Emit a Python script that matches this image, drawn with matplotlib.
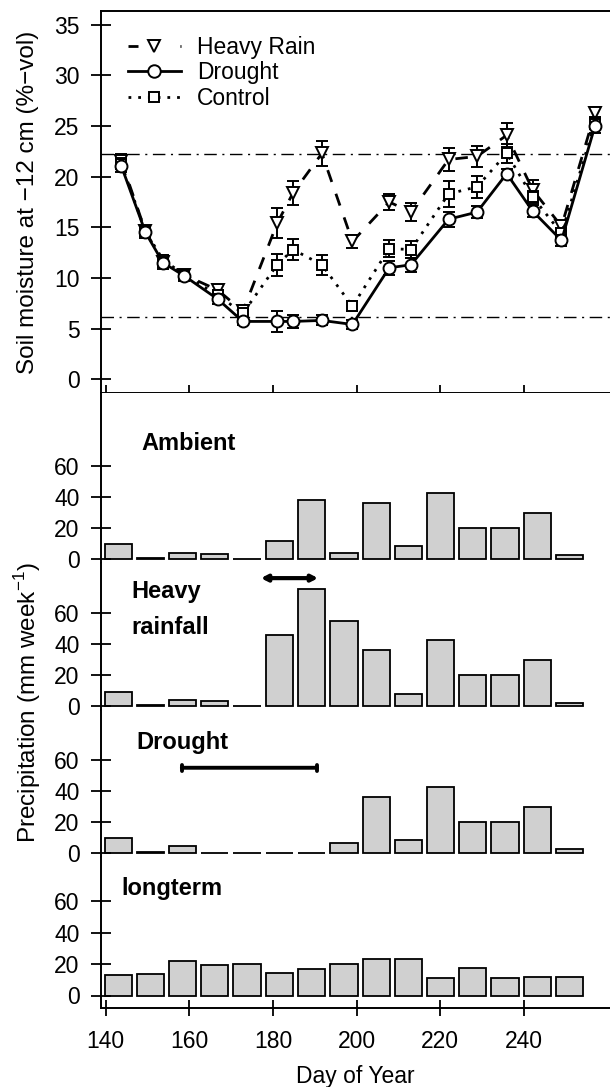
import numpy as np
import matplotlib.pyplot as plt
from matplotlib.lines import Line2D

plt.rcParams['font.family'] = ['Liberation Sans', 'DejaVu Sans']
plt.rcParams['mathtext.fontset'] = 'custom'
plt.rcParams['mathtext.rm'] = 'Liberation Sans'

W, H = 610, 1087

# soil moisture (top panel)
days = [143.7, 149.5, 153.7, 158.8, 166.8, 172.8, 181.0, 184.8, 191.7,
        199.0, 207.8, 213.0, 222.0, 228.8, 235.9, 242.1, 249.0, 257.0]
heavy = [21.6, 14.6, 11.6, 10.3, 8.8, 6.7, 15.4, 18.4, 22.3,
         13.6, 17.5, 16.5, 21.7, 22.0, 24.1, 18.7, 15.1, 26.3]
heavy_err = [0.6, 0.5, 0.5, 0.4, 0.5, 0.4, 1.5, 1.15, 1.2,
             0.6, 0.8, 0.9, 1.15, 1.0, 1.2, 1.0, 0.5, 0.6]
drought = [21.1, 14.5, 11.5, 10.2, 7.9, 5.7, 5.7, 5.7, 5.8,
           5.4, 11.0, 11.3, 15.8, 16.5, 20.3, 16.6, 13.7, 25.0]
drought_err = [0.6, 0.6, 0.6, 0.5, 0.5, 0.4, 1.0, 0.6, 0.5,
               0.4, 0.7, 0.7, 0.75, 0.6, 0.5, 0.6, 0.5, 0.7]
control = [21.3, 14.6, 11.8, 10.3, 8.3, 6.5, 11.3, 12.8, 11.3,
           7.2, 12.9, 12.8, 18.3, 19.0, 22.3, 18.0, 14.4, 25.3]
control_err = [0.5, 0.5, 0.5, 0.5, 0.5, 0.4, 1.1, 1.0, 1.0,
               0.5, 0.8, 0.8, 1.3, 1.1, 0.9, 0.6, 0.5, 0.6]
upper_line = 22.2
lower_line = 6.1

# weekly precipitation (bottom panels)
weeks = [143.0, 150.7, 158.4, 166.1, 173.8, 181.6, 189.3, 197.0,
         204.7, 212.4, 220.1, 227.8, 235.5, 243.3, 250.9]
ambient = [9.7, 0.4, 4.1, 3.4, 0.0, 11.4, 37.8, 4.1, 35.9, 8.4, 42.6, 19.8, 19.8, 29.5, 2.6]
heavy_rain = [9.1, 0.4, 3.9, 3.0, 0.0, 45.6, 75.6, 55.1, 35.9, 8.0, 42.3, 19.7, 19.7, 29.4, 2.2]
drought_rain = [9.7, 0.4, 4.1, 0.0, 0.0, 0.0, 0.0, 6.5, 36.1, 8.4, 42.6, 19.8, 19.8, 29.5, 2.6]
longterm = [12.8, 14.0, 21.9, 19.6, 19.8, 14.5, 16.8, 20.2, 23.0, 23.6, 11.3, 17.4, 10.9, 12.1, 11.7]

heavy_period = (177.1, 190.8)
drought_period = (158.2, 190.5)


def fx(px):
    return px / W


def fy(py):
    return 1 - py / H


def rect(top, bottom, right=610):
    return [fx(100.7), fy(bottom), fx(right) - fx(100.7), (bottom - top) / H]


fig = plt.figure(figsize=(W / 100, H / 100), dpi=100)
FS = 16.5
XLIM = (138.8, 260.6)

# ---- top panel
ax = fig.add_axes(rect(10.7, 393.3))
ax.set_xlim(XLIM)
ax.set_ylim(-1.4, 36.4)
ax.axhline(upper_line, color='black', lw=1, dashes=(9, 4, 1.5, 4), zorder=1)
ax.axhline(lower_line, color='black', lw=1, dashes=(9, 4, 1.5, 4), zorder=1)

kw = dict(color='black', mfc='white', mec='black', mew=1.4, capsize=4,
          elinewidth=1.4, capthick=1.4, lw=2)
hr_ls = (0, (4.5, 4.5))
ct_ls = (0, (1, 2.5))
ax.errorbar(days, heavy, yerr=heavy_err, marker='v', ms=9, ls=hr_ls, zorder=3, **kw)
ax.errorbar(days, control, yerr=control_err, marker='s', ms=7.5, ls=ct_ls, zorder=4, **kw)
ax.errorbar(days, drought, yerr=drought_err, marker='o', ms=8.6, ls='-', zorder=5, **kw)

# legend handles drawn like the R legend: "- v ." / "-o-" / "..[].."
mk = dict(color='black', mfc='white', mec='black', mew=1.4, lw=2)
handles = [Line2D([], [], marker='v', ms=9, ls=(0, (3.6, 15.1, 0.7, 10)), **mk),
           Line2D([], [], marker='o', ms=9, ls='-', **mk),
           Line2D([], [], marker='s', ms=7.5, ls=ct_ls, **mk)]
ax.legend(handles, ['Heavy Rain', 'Drought', 'Control'], loc='upper left',
          bbox_to_anchor=(fx(128), fy(36)), bbox_transform=fig.transFigure,
          frameon=False, fontsize=FS, handlelength=2.3, handletextpad=0.7,
          labelspacing=0.1, borderpad=0, borderaxespad=0)

ax.set_yticks(range(0, 36, 5))
ax.set_xticks(range(140, 241, 20))
ax.tick_params(axis='x', direction='inout', length=12, width=1.3, labelbottom=False)
ax.tick_params(axis='y', direction='inout', length=14.5, width=1.3, labelsize=FS, pad=8)
ax.spines['right'].set_visible(False)
for s in ['left', 'top', 'bottom']:
    ax.spines[s].set_linewidth(1.4)

# ---- precipitation panels
panels = [
    (ambient, 393.3, 563, 559.0, 1.55),
    (heavy_rain, 563, 710, 706.0, 1.55),
    (drought_rain, 710, 857, 852.7, 1.55),
    (longterm, 857, 1007.7, 995.5, 1.567),
]
bar_axes = []
for vals, top, bottom, zero, scale in panels:
    a = fig.add_axes(rect(top, bottom))
    a.bar(weeks, vals, width=6.5, color='#d0d0d0', edgecolor='black', lw=1.3)
    a.set_xlim(XLIM)
    a.set_ylim((zero - bottom) / scale, (zero - top) / scale)
    a.set_yticks([0, 20, 40, 60])
    a.tick_params(axis='y', direction='inout', length=14.5, width=1.3, labelsize=FS, pad=8)
    for s in ['top', 'right', 'bottom']:
        a.spines[s].set_visible(False)
    a.spines['left'].set_linewidth(1.4)
    a.set_xticks([])
    bar_axes.append(a)

# bottom axis only on the last one
a = bar_axes[-1]
a.spines['bottom'].set_visible(True)
a.spines['bottom'].set_linewidth(1.4)
a.set_xticks(range(140, 241, 20))
a.tick_params(axis='x', direction='inout', length=12, width=1.3, labelsize=FS, pad=10)
a.set_xlabel('Day of Year', fontsize=FS, labelpad=9)

# treatment periods
arrow = dict(arrowstyle='<|-|>,head_length=0.35,head_width=0.18', color='black',
             lw=3, shrinkA=0, shrinkB=0)
bar_axes[1].annotate('', xy=(heavy_period[1], 82.5), xytext=(heavy_period[0], 82.5),
                     arrowprops=arrow)
arrow2 = dict(arrowstyle='|-|,widthA=0.2,widthB=0.2', color='black', lw=2.8,
              shrinkA=0, shrinkB=0)
bar_axes[2].annotate('', xy=(drought_period[1], 54.8), xytext=(drought_period[0], 54.8),
                     arrowprops=arrow2)

# panel titles
TS = 17
fig.text(fx(141.7), fy(444), 'Ambient', fontsize=TS, weight='bold', va='center')
fig.text(fx(131), fy(591.7), 'Heavy', fontsize=TS, weight='bold', va='center')
fig.text(fx(131), fy(627.5), 'rainfall', fontsize=TS, weight='bold', va='center')
fig.text(fx(136.6), fy(742.7), 'Drought', fontsize=TS, weight='bold', va='center')
fig.text(fx(121.7), fy(888.3), 'longterm', fontsize=TS, weight='bold', va='center')

fig.text(fx(28), fy(202), 'Soil moisture at \u221212 cm (%\u2212vol)', rotation=90,
         fontsize=17.5, ha='center', va='center')
fig.text(fx(28), fy(703), r'Precipitation (mm week$^{\mathregular{-1}}$)', rotation=90,
         fontsize=17.5, ha='center', va='center')

fig.savefig('out.png', dpi=100)
